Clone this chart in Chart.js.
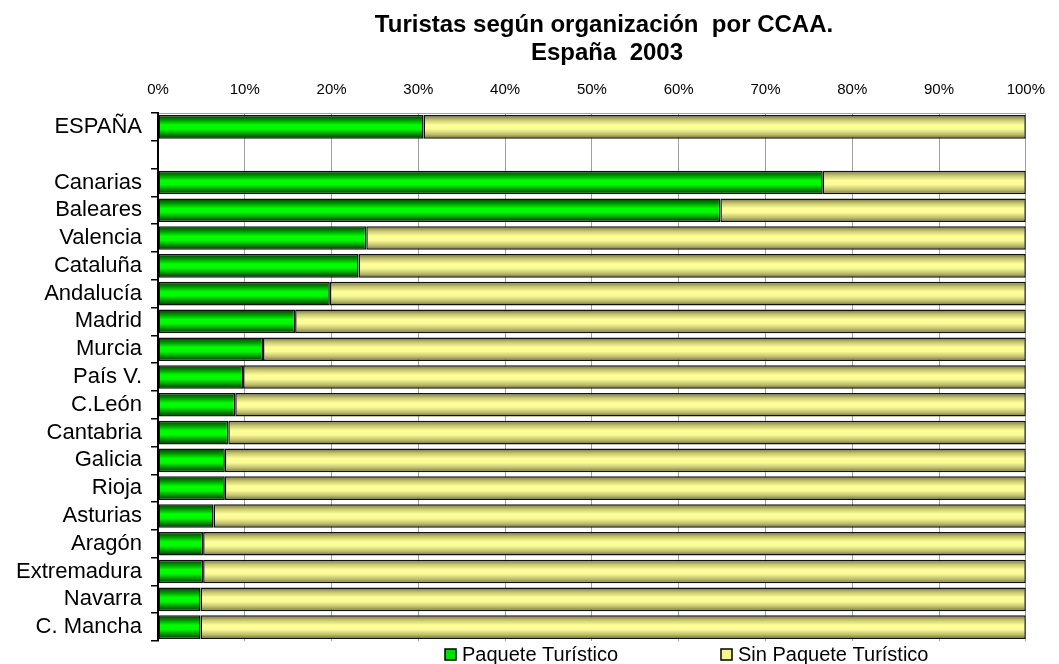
<!DOCTYPE html>
<html>
<head>
<meta charset="utf-8">
<script src="https://cdn.jsdelivr.net/npm/chart.js@4.4.1/dist/chart.umd.min.js"></script>
<style>
  html, body { margin: 0; padding: 0; background: #fff; }
  canvas { display: block; }
</style>
</head>
<body>
<canvas id="myChart" width="1059" height="664"></canvas>
<script>
// datos (porcentajes)
var regiones = ['ESPAÑA', '', 'Canarias', 'Baleares', 'Valencia', 'Cataluña', 'Andalucía', 'Madrid',
    'Murcia', 'País V.', 'C.León', 'Cantabria', 'Galicia', 'Rioja', 'Asturias', 'Aragón',
    'Extremadura', 'Navarra', 'C. Mancha'];
var paquete = [30.6, null, 76.6, 64.8, 24.0, 23.1, 19.8, 15.8, 12.1, 9.8, 8.9, 8.1, 7.7, 7.7, 6.4, 5.2, 5.2, 4.9, 4.9];
var sinPaquete = [69.4, null, 23.4, 35.2, 76.0, 76.9, 80.2, 84.2, 87.9, 90.2, 91.1, 91.9, 92.3, 92.3, 93.6, 94.8, 94.8, 95.1, 95.1];
var xTicks = ['0%', '10%', '20%', '30%', '40%', '50%', '60%', '70%', '80%', '90%', '100%'];
var titulo = ['Turistas según organización  por CCAA.', 'España  2003'];
var series = ['Paquete Turístico', 'Sin Paquete Turístico'];

var FONT = "'Liberation Sans', Arial, sans-serif";
var BAR_PCT = 0.85;

var verde = ['#003c00', '#009000', '#00ff00', '#00f800', '#008800', '#003800'];
var amarillo = ['#6e6e3c', '#c6c66e', '#ffff99', '#fafa96', '#bebe6c', '#6a6a3a'];

function gradiente(stops, flat) {
    return function(context) {
        var chart = context.chart;
        var y = chart.scales.y;
        if (!chart.chartArea || !y || context.dataIndex === undefined) return flat;
        var c = y.getPixelForValue(context.dataIndex);
        var half = (y.height / regiones.length) * BAR_PCT / 2;
        var g = chart.ctx.createLinearGradient(0, c - half, 0, c + half);
        g.addColorStop(0, stops[0]);
        g.addColorStop(0.2, stops[1]);
        g.addColorStop(0.42, stops[2]);
        g.addColorStop(0.6, stops[3]);
        g.addColorStop(0.82, stops[4]);
        g.addColorStop(1, stops[5]);
        return g;
    };
}

var textosPlugin = {
    id: 'textos',
    afterDraw: function(chart) {
        var ctx = chart.ctx;
        ctx.save();
        ctx.fillStyle = '#000';
        ctx.textAlign = 'center';
        ctx.textBaseline = 'middle';
        ctx.font = 'bold 24px ' + FONT;
        ctx.fillText(titulo[0], 604, 25);
        ctx.fillText(titulo[1], 607, 53);

        // leyenda
        var items = [
            { x: 445, color: '#00e000' },
            { x: 721, color: '#f4f48e' }
        ];
        ctx.font = '20px ' + FONT;
        ctx.textAlign = 'left';
        items.forEach(function(it, i) {
            ctx.fillStyle = it.color;
            ctx.fillRect(it.x, 649, 11, 11);
            ctx.strokeStyle = '#000';
            ctx.lineWidth = 1.5;
            ctx.strokeRect(it.x, 649, 11, 11);
            ctx.fillStyle = '#000';
            ctx.fillText(series[i], it.x + 17, 655);
        });
        ctx.restore();
    }
};

var ctx = document.getElementById('myChart').getContext('2d');
var myChart = new Chart(ctx, {
    type: 'bar',
    data: {
        labels: regiones,
        datasets: [{
            label: series[0],
            data: paquete,
            backgroundColor: gradiente(verde, '#00e000'),
            borderColor: '#111',
            borderWidth: 1.5,
            borderSkipped: false,
            barPercentage: BAR_PCT,
            categoryPercentage: 1
        }, {
            label: series[1],
            data: sinPaquete,
            backgroundColor: gradiente(amarillo, '#f4f48e'),
            borderColor: '#111',
            borderWidth: 1.5,
            borderSkipped: false,
            barPercentage: BAR_PCT,
            categoryPercentage: 1
        }]
    },
    options: {
        indexAxis: 'y',
        responsive: false,
        animation: false,
        layout: {
            padding: { left: 0, right: 30, top: 0, bottom: 23 }
        },
        scales: {
            x: {
                position: 'top',
                stacked: true,
                min: 0,
                max: 100,
                ticks: {
                    stepSize: 10,
                    color: '#000',
                    font: { family: FONT, size: 15 },
                    padding: 14,
                    callback: function(v) { return xTicks[Math.round(v / 10)]; }
                },
                grid: { color: '#a0a0a0', lineWidth: 1, drawTicks: false },
                border: { color: '#a0a0a0', width: 1 },
                afterFit: function(scale) { scale.height = 113; }
            },
            y: {
                stacked: true,
                ticks: {
                    color: '#000',
                    font: { family: FONT, size: 22 },
                    padding: 9,
                    autoSkip: false
                },
                grid: { drawOnChartArea: false, drawTicks: true, tickLength: 7, color: '#000', lineWidth: 1.5 },
                border: { color: '#000', width: 2 },
                afterFit: function(scale) { scale.width = 158; }
            }
        },
        plugins: {
            legend: { display: false },
            tooltip: { enabled: false }
        }
    },
    plugins: [textosPlugin]
});
</script>
</body>
</html>
